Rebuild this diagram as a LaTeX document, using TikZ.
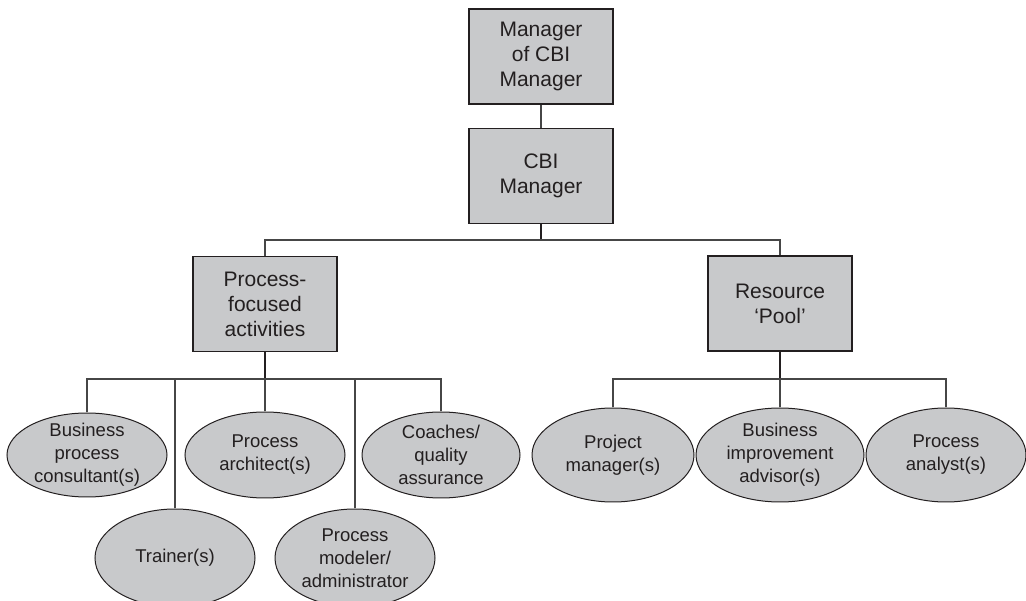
\documentclass[tikz,border=0pt]{standalone}
\usepackage{fontspec}
\setmainfont{Liberation Sans}
\usetikzlibrary{shapes.geometric}
\definecolor{boxfill}{RGB}{200,201,203}
\definecolor{inkc}{RGB}{35,31,32}
\definecolor{linec}{RGB}{70,70,70}
\begin{document}
\begin{tikzpicture}[x=1pt,y=-1pt,
  box/.style={draw=inkc,line width=1.3pt,fill=boxfill,rectangle,minimum width=144pt,minimum height=95pt,inner sep=0pt,align=center,text=inkc,font=\fontsize{21}{25}\selectfont},
  ell/.style={draw=inkc,line width=1pt,fill=boxfill,ellipse,inner sep=0pt},
  etext/.style={align=center,text=inkc,inner sep=0pt,font=\fontsize{18.5}{23}\selectfont},
  conn/.style={draw=linec,line width=1.2pt},
  stub/.style={draw=inkc,line width=1.8pt}]
\useasboundingbox (0,0) rectangle (1026,601);
\clip (0,0) rectangle (1026,601);
% boxes
\node[box] (mgr) at (541,56.5) {Manager\\of CBI\\Manager};
\node[box] (cbi) at (541,176) {CBI\\Manager};
\node[box] (pf) at (265,304) {Process-\\focused\\activities};
\node[box] (rp) at (780,303.5) {Resource\\‘Pool’};
% ellipses, left group
\node[ell,minimum width=160pt,minimum height=84pt,label={[etext]center:{Business\\process\\consultant(s)}}] (bpc) at (87,455) {};
\node[ell,minimum width=160pt,minimum height=86pt,label={[etext]center:{Process\\architect(s)}}] (pa) at (265,455) {};
\node[ell,minimum width=158pt,minimum height=86pt,label={[etext]center:{Coaches/\\quality\\assurance}}] (cqa) at (441,455) {};
\node[ell,minimum width=160pt,minimum height=98pt,label={[etext]center:{Trainer(s)}}] (tr) at (175,558) {};
\node[ell,minimum width=160pt,minimum height=98pt,label={[etext]center:{Process\\modeler/\\administrator}}] (pm) at (355,558) {};
% ellipses, right group
\node[ell,minimum width=162pt,minimum height=94pt,label={[etext]center:{Project\\manager(s)}}] (pjm) at (613,455) {};
\node[ell,minimum width=168pt,minimum height=94pt,label={[etext]center:{Business\\improvement\\advisor(s)}}] (bia) at (780,455) {};
\node[ell,minimum width=160pt,minimum height=94pt,label={[etext]center:{Process\\analyst(s)}}] (pan) at (946,455) {};
% junctions
\coordinate (j1) at (541,240);
\coordinate (j2) at (265,379);
\coordinate (j3) at (780,379);
% connectors
\draw[conn] (mgr.south) -- (cbi.north);
\draw[stub] (cbi.south) -- (j1);
\draw[conn] (pf.north) |- (j1) -| (rp.north);
\draw[stub] (pf.south) -- (j2);
\draw[conn] (bpc.north) -- (bpc.north |- j2) -- (cqa.north |- j2) -- (cqa.north);
\draw[conn] (tr.north) -- (tr.north |- j2);
\draw[conn] (pa.north) -- (j2);
\draw[conn] (pm.north) -- (pm.north |- j2);
\draw[stub] (rp.south) -- (j3);
\draw[conn] (pjm.north) -- (pjm.north |- j3) -- (pan.north |- j3) -- (pan.north);
\draw[conn] (bia.north) -- (j3);
\end{tikzpicture}
\end{document}
